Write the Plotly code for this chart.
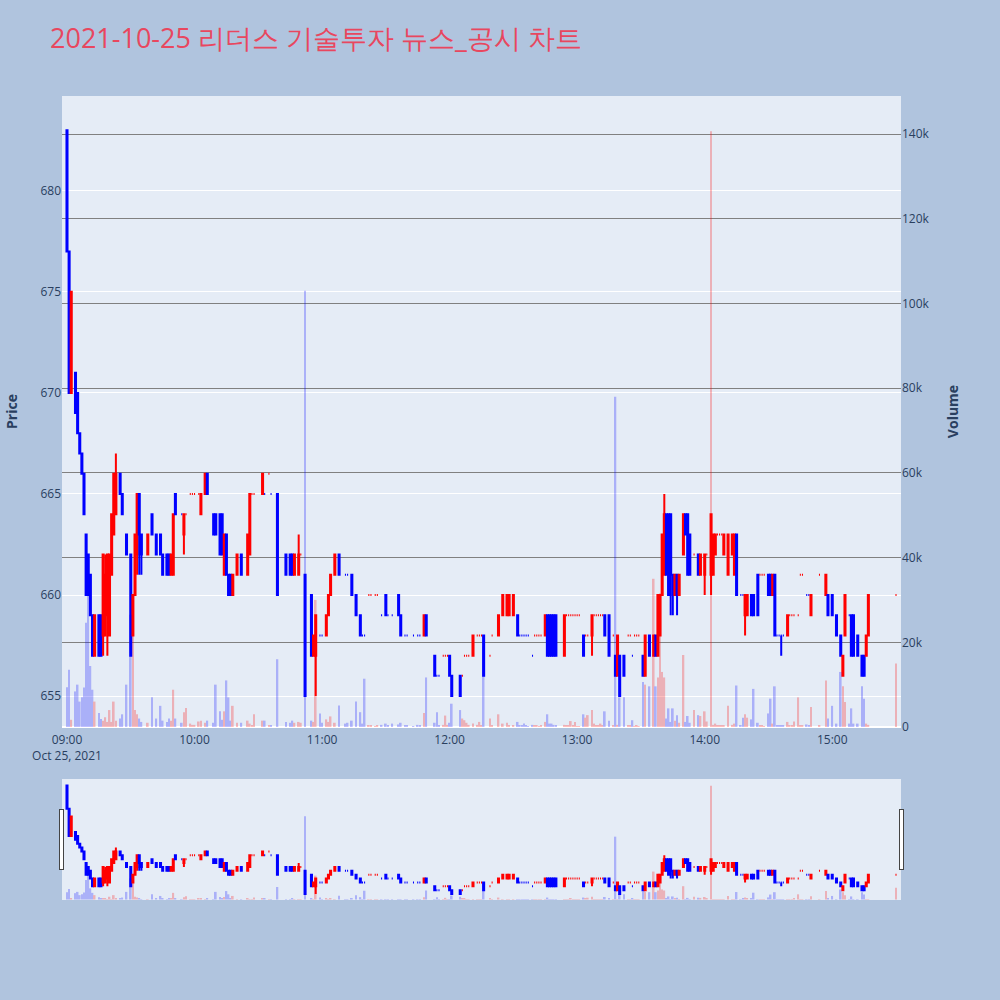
import plotly.graph_objects as go

times = ["09:00","09:01","09:02","09:04","09:05","09:06","09:07","09:08","09:09","09:10",
         "09:11","09:12","09:13","09:15","09:16","09:17","09:18","09:19","09:20","09:21",
         "09:22","09:23","09:25","09:26","09:28","09:30","09:31","09:32","09:33","09:34",
         "09:35","09:38","09:40","09:42","09:44","09:45","09:47","09:48","09:49","09:50",
         "09:51","09:54","09:55","09:56","09:58","09:59","10:00","10:02","10:03","10:05",
         "10:06","10:09","10:10","10:12","10:13","10:14","10:15","10:16","10:17","10:18",
         "10:20","10:22","10:25","10:26","10:27","10:28","10:32","10:33","10:35","10:36",
         "10:39","10:43","10:45","10:46","10:47","10:49","10:50","10:52","10:55","10:56",
         "10:57","10:59","11:00","11:02","11:03","11:04","11:06","11:08","11:11","11:12",
         "11:14","11:16","11:18","11:19","11:20","11:22","11:23","11:25","11:26","11:28",
         "11:30","11:31","11:33","11:36","11:37","11:39","11:40","11:43","11:45","11:46",
         "11:48","11:49","11:53","11:54","11:55","11:57","11:58","11:59","12:00","12:01",
         "12:05","12:06","12:07","12:08","12:09","12:11","12:13","12:14","12:15","12:16",
         "12:19","12:20","12:23","12:25","12:27","12:28","12:30","12:32","12:33","12:34",
         "12:35","12:36","12:37","12:39","12:40","12:41","12:42","12:43","12:45","12:46",
         "12:47","12:48","12:49","12:50","12:54","12:55","12:56","12:57","12:58","12:59",
         "13:00","13:01","13:03","13:04","13:05","13:07","13:08","13:09","13:10","13:11",
         "13:12","13:13","13:15","13:17","13:18","13:19","13:20","13:22","13:24","13:25",
         "13:26","13:27","13:28","13:29","13:31","13:32","13:34","13:36","13:37","13:38",
         "13:39","13:40","13:41","13:42","13:43","13:44","13:45","13:46","13:47","13:48",
         "13:50","13:51","13:52","13:53","13:55","13:57","13:58","14:00","14:01","14:03",
         "14:04","14:05","14:06","14:07","14:08","14:09","14:11","14:13","14:14","14:15",
         "14:17","14:18","14:19","14:20","14:22","14:23","14:25","14:26","14:27","14:28",
         "14:30","14:31","14:32","14:33","14:34","14:35","14:36","14:37","14:39","14:40",
         "14:41","14:42","14:44","14:45","14:46","14:48","14:49","14:50","14:54","14:57",
         "14:58","15:00","15:02","15:04","15:05","15:06","15:08","15:09","15:10","15:12",
         "15:14","15:15","15:16","15:17","15:30"]

opens = [683,677,670,671,670,668,667,666,663,662,
         661,659,657,659,659,658,658,659,658,661,
         663,664,666,665,663,662,658,660,662,665,
         663,662,664,663,663,662,662,662,661,661,
         665,664,663,664,665,665,665,665,664,665,
         666,664,664,664,664,661,663,661,661,660,
         661,662,661,662,665,665,665,665,666,665,
         665,662,662,662,661,661,662,661,660,657,
         657,658,658,658,659,660,661,662,661,661,
         661,660,659,658,658,660,660,660,660,659,
         660,659,659,660,659,658,658,658,658,658,
         658,659,657,656,656,657,657,657,657,656,
         656,656,657,657,657,657,658,658,658,658,
         657,658,658,659,659,659,659,659,658,658,
         658,658,658,657,658,658,658,658,658,659,
         659,659,659,659,657,659,659,659,659,659,
         659,659,658,658,658,658,659,659,659,659,
         659,659,659,658,657,656,657,657,658,658,
         657,658,658,658,657,656,658,657,658,657,
         658,660,661,664,664,664,661,660,661,660,
         662,664,664,663,662,662,661,661,662,661,
         661,662,663,663,663,662,661,662,661,663,
         660,660,659,659,660,660,661,661,661,661,
         661,661,660,661,658,658,658,658,658,659,
         659,659,659,661,661,660,660,659,661,660,
         660,660,659,658,656,658,659,659,659,658,
         657,657,657,658,660]

highs = [683,677,675,671,670,668,667,666,663,662,
         661,659,659,659,659,662,662,662,662,664,
         666,667,666,665,663,662,660,663,665,665,
         663,663,664,663,663,662,662,662,662,664,
         665,664,664,664,665,665,665,665,665,666,
         666,664,664,664,664,663,663,661,661,661,
         662,662,663,665,665,665,666,665,666,665,
         665,662,662,662,662,663,662,661,660,658,
         659,658,658,659,660,661,662,662,661,661,
         661,660,659,658,658,660,660,660,660,659,
         660,659,659,660,659,658,658,658,658,658,
         659,659,657,656,656,657,657,657,657,656,
         656,656,657,657,657,658,658,658,658,658,
         657,658,659,660,660,660,660,659,658,658,
         658,658,658,657,658,658,658,658,659,659,
         659,659,659,659,659,659,659,659,659,659,
         659,659,658,658,658,659,659,659,659,659,
         659,659,659,658,657,658,657,657,658,658,
         657,658,658,658,657,658,658,658,658,660,
         660,663,665,664,664,664,661,661,661,661,
         664,664,664,663,662,662,662,662,662,664,
         663,663,663,663,663,663,663,663,663,663,
         660,660,660,660,660,660,661,661,661,661,
         661,661,661,661,658,658,658,658,659,659,
         659,659,659,661,661,660,660,660,661,661,
         660,660,659,658,657,660,659,659,659,658,
         657,657,658,660,660]

lows = [677,670,670,669,668,667,666,664,660,660,
        659,657,657,657,657,657,658,657,658,661,
        663,664,665,664,662,657,658,660,661,661,
        661,662,663,662,662,661,661,661,661,661,
        664,664,662,664,665,665,665,665,664,665,
        665,663,663,662,662,661,661,660,660,660,
        661,661,661,662,665,665,665,665,666,665,
        660,661,661,661,661,661,662,655,657,657,
        655,658,658,658,659,660,661,661,661,661,
        660,659,658,658,658,660,660,660,660,659,
        659,659,659,659,658,658,658,658,658,658,
        658,658,656,656,656,657,657,657,656,655,
        655,656,657,657,657,657,658,658,658,656,
        657,658,658,659,659,659,659,658,658,658,
        658,658,658,657,658,658,658,658,658,657,
        657,657,657,657,657,659,659,659,659,659,
        659,659,657,658,658,657,659,659,659,659,
        659,658,657,658,656,656,655,656,658,658,
        657,658,658,658,656,656,657,657,657,657,
        658,660,661,661,660,659,659,660,659,660,
        662,663,661,661,662,661,661,660,662,660,
        661,662,663,663,663,662,661,662,661,660,
        660,660,658,659,659,659,659,661,661,661,
        660,660,660,658,658,658,657,658,658,659,
        659,659,659,661,661,660,660,659,661,660,
        659,659,658,657,656,658,659,657,657,657,
        656,656,657,658,660]

closes = [677,670,675,669,668,667,666,664,660,660,
          659,657,659,657,657,662,661,662,662,664,
          666,666,665,664,662,657,660,663,665,663,
          662,663,663,662,662,661,661,661,662,664,
          664,664,664,664,665,665,665,665,665,666,
          665,663,663,662,662,663,661,660,660,661,
          662,661,663,665,665,665,666,665,666,665,
          660,661,661,661,662,662,662,655,657,658,
          659,658,658,659,660,661,662,661,661,661,
          660,659,658,658,658,660,660,660,660,659,
          659,659,659,659,658,658,658,658,658,658,
          659,658,656,656,656,657,657,657,656,655,
          655,656,657,657,657,658,658,658,658,656,
          657,658,659,660,660,660,660,658,658,658,
          658,658,658,657,658,658,658,658,659,657,
          657,657,657,657,659,659,659,659,659,659,
          659,659,657,658,658,659,659,659,659,659,
          659,658,657,658,656,658,655,656,658,658,
          657,658,658,658,656,658,657,658,657,660,
          660,663,664,661,660,661,660,661,660,661,
          664,663,661,661,662,661,662,662,662,664,
          663,663,663,663,663,663,663,663,663,660,
          660,660,660,660,659,659,659,661,661,661,
          660,660,661,658,658,658,658,658,659,659,
          659,659,659,661,661,660,660,660,661,661,
          659,659,658,657,657,660,659,657,657,657,
          656,656,658,660,660]

volumes = [9400,13500,1700,8400,10000,6000,7000,9300,24600,31000,
           14400,8800,6000,3300,1900,1500,2300,1200,4000,1200,
           6000,1500,2000,3000,10000,26500,23700,4000,3000,2000,
           1200,1000,7000,2000,5000,1500,1200,2000,1500,8800,
           2000,1000,3500,4500,800,500,500,1300,1500,1000,
           1500,1000,10000,3700,1700,3700,11000,7000,1500,5000,
           1000,1000,1500,800,500,3000,1500,1500,500,500,
           16000,1200,1000,1500,1000,1200,1000,103000,1500,1200,
           30000,3200,1000,1800,1200,2500,1000,5100,800,1000,
           1500,6000,3500,800,11400,300,300,200,300,500,
           800,400,800,600,1000,500,300,200,500,300,
           3300,11700,1000,3500,500,500,2700,500,1000,5500,
           4000,2000,1600,1000,500,800,500,1200,300,19000,
           2000,500,3000,800,1000,500,400,1200,300,300,
           800,300,200,500,300,300,200,300,1200,3000,
           800,800,500,500,500,300,300,1400,300,1200,
           200,200,3000,2200,2800,4000,800,300,300,800,
           300,3700,1500,300,78000,500,7000,7000,300,300,
           1600,200,300,200,10600,10000,9600,35000,9600,11700,
           31600,13000,11700,2000,4400,1200,4400,1500,2800,1000,
           17000,1200,2600,1000,4000,2800,2600,3700,1300,140700,
           500,800,300,300,400,400,5000,500,800,9800,
           300,2200,3000,2200,1800,9000,1000,300,300,200,
           3200,6700,800,9600,500,300,400,300,1200,300,
           300,1300,7000,300,400,600,300,4700,300,11000,
           2000,5000,800,13000,9600,5900,800,4400,800,800,
           9600,6700,800,500,15000]

day = "2021-10-25 "
dates = [day + t for t in times]
x_range = [day + "08:57:39", day + "15:32:21"]
price_range = [653.47, 684.69]
volume_range = [0, 149000]

# direction like plotly candlestick (flat candles compare with previous close)
vol_colors = []
prev_c = None
prev_dir = "dec"
for o, c in zip(opens, closes):
    if c > o:
        d = "inc"
    elif c < o:
        d = "dec"
    elif prev_c is not None and c > prev_c:
        d = "inc"
    elif prev_c is not None and c < prev_c:
        d = "dec"
    else:
        d = prev_dir
    vol_colors.append("red" if d == "inc" else "blue")
    prev_c = c
    prev_dir = d

fig = go.Figure()
fig.add_trace(go.Candlestick(
    x=dates, open=opens, high=highs, low=lows, close=closes,
    increasing=dict(line=dict(color="red"), fillcolor="red"),
    decreasing=dict(line=dict(color="blue"), fillcolor="blue"),
    name="Price", showlegend=False))
fig.add_trace(go.Bar(
    x=dates, y=volumes, marker=dict(color=vol_colors, line=dict(width=0)),
    opacity=0.25, yaxis="y2", name="Volume", showlegend=False))

fig.update_layout(
    width=1000, height=1000,
    paper_bgcolor="lightsteelblue",
    plot_bgcolor="#E5ECF6",
    title=dict(text="2021-10-25 리더스 기술투자 뉴스_공시 차트",
               font=dict(size=27, color="#E8475F")),
    margin=dict(l=61, r=99, t=96, b=100),
    showlegend=False,
    xaxis=dict(showgrid=False, range=x_range,
               ticks="outside", ticklen=2, tickcolor="rgba(0,0,0,0)",
               rangeslider=dict(visible=True, range=x_range)),
    yaxis=dict(title=dict(text="<b>Price</b>", standoff=19), side="left",
               range=price_range),
    yaxis2=dict(title=dict(text="<b>Volume</b>", standoff=19), overlaying="y",
                side="right", gridcolor="gray", showgrid=True,
                range=volume_range),
)

fig.write_html("out.html", config={"displayModeBar": False},
               post_script="document.body.style.margin='0';")
